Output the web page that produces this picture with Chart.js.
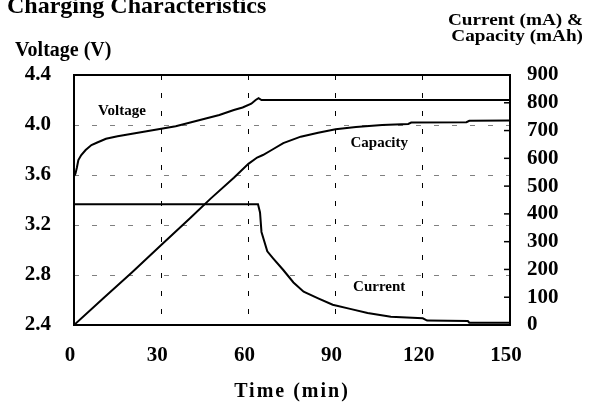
<!DOCTYPE html>
<html>
<head>
<meta charset="utf-8">
<script src="https://cdn.jsdelivr.net/npm/chart.js@4.4.1/dist/chart.umd.min.js"></script>
<style>
  html, body { margin: 0; padding: 0; background: #fff; }
  #wrap { width: 599px; height: 403px; }
</style>
</head>
<body>
<div id="wrap"><canvas id="c" width="599" height="403"></canvas></div>
<script>
// ---- data ----
const xTicks = [0, 30, 60, 90, 120, 150];
const voltageTicks = [2.4, 2.8, 3.2, 3.6, 4.0, 4.4];
const rightTicks = [0, 100, 200, 300, 400, 500, 600, 700, 800, 900];

const voltageTime = [0, 0.5, 1, 1.5, 2.5, 4, 6, 8, 11, 15, 20, 25, 30, 35, 40, 45, 50, 55, 58, 61, 62.5, 63.5, 64.5, 150];
const voltageValues = [3.59, 3.61, 3.66, 3.72, 3.76, 3.80, 3.84, 3.86, 3.89, 3.91, 3.93, 3.95, 3.97, 3.99, 4.02, 4.05, 4.08, 4.12, 4.14, 4.17, 4.20, 4.215, 4.20, 4.20];

const capacityTime = [0, 10, 20, 30, 40, 47, 55, 60, 63, 65, 68, 72, 78, 84, 90, 97, 106, 115, 116, 135, 136, 150];
const capacityValues = [0, 95, 190, 288, 385, 455, 530, 580, 603, 612, 630, 655, 678, 692, 705, 713, 720, 724, 729, 730, 735, 736];

const currentTime = [0, 63.3, 64, 64.5, 66.5, 68.5, 72, 75.5, 79, 84, 89, 95, 101, 109, 120, 121.5, 135.5, 136, 150];
const currentValues = [435, 435, 405, 335, 265, 240, 198, 153, 120, 96, 73, 58, 43, 30, 24, 16, 14, 8, 8];

const seriesLabels = [
  { text: 'Voltage', x: 16.5, y: 4.11, axis: 'y' },
  { text: 'Capacity', x: 105, y: 655, axis: 'y2' },
  { text: 'Current', x: 105, y: 137, axis: 'y2' }
];

function pts(xs, ys) { return xs.map((x, i) => ({ x: x, y: ys[i] })); }

const FONT = '"Liberation Serif", "Times New Roman", serif';

function stretchedText(ctx, text, x, y, sx, align) {
  ctx.save();
  ctx.translate(x, y);
  ctx.scale(sx, 1);
  ctx.textAlign = align;
  ctx.fillText(text, 0, 0);
  ctx.restore();
}

const overlay = {
  id: 'overlay',
  beforeDatasetsDraw(chart) {
    const { ctx, chartArea: a } = chart;
    ctx.save();
    ctx.strokeStyle = '#000';
    ctx.lineWidth = 2;
    ctx.strokeRect(a.left, a.top, a.right - a.left, a.bottom - a.top);
    // inward tick marks on the right axis
    const s = chart.scales.y2;
    ctx.lineWidth = 1.5;
    rightTicks.forEach(v => {
      const py = s.getPixelForValue(v);
      ctx.beginPath();
      ctx.moveTo(a.right - 6, py);
      ctx.lineTo(a.right, py);
      ctx.stroke();
    });
    ctx.restore();
  },
  afterDraw(chart) {
    const { ctx } = chart;
    ctx.save();
    ctx.fillStyle = '#000';
    ctx.textBaseline = 'alphabetic';
    ctx.textAlign = 'left';
    ctx.font = 'bold 24px ' + FONT;
    ctx.fillText('Charging Characteristics', 7, 13);
    ctx.font = 'bold 20px ' + FONT;
    ctx.fillText('Voltage (V)', 15, 56);
    ctx.font = 'bold 16px ' + FONT;
    stretchedText(ctx, 'Current (mA) &', 583, 25, 1.2, 'right');
    stretchedText(ctx, 'Capacity (mAh)', 583, 41, 1.2, 'right');
    ctx.textAlign = 'center';
    ctx.font = 'bold 20px ' + FONT;
    ctx.letterSpacing = '2px';
    ctx.fillText('Time (min)', 292, 397);
    ctx.letterSpacing = '0px';
    ctx.font = 'bold 15px ' + FONT;
    ctx.textBaseline = 'middle';
    seriesLabels.forEach(l => {
      const px = chart.scales.x.getPixelForValue(l.x);
      const py = chart.scales[l.axis].getPixelForValue(l.y);
      ctx.fillText(l.text, px, py);
    });
    ctx.restore();
  }
};

const lineStyle = { borderColor: '#000', borderWidth: 2, pointRadius: 0, tension: 0, fill: false };

new Chart(document.getElementById('c'), {
  type: 'line',
  data: {
    datasets: [
      Object.assign({ label: 'Voltage', data: pts(voltageTime, voltageValues), yAxisID: 'y' }, lineStyle),
      Object.assign({ label: 'Capacity', data: pts(capacityTime, capacityValues), yAxisID: 'y2' }, lineStyle),
      Object.assign({ label: 'Current', data: pts(currentTime, currentValues), yAxisID: 'y2' }, lineStyle)
    ]
  },
  options: {
    responsive: false,
    animation: false,
    layout: { padding: { top: 75, left: 0, right: 0, bottom: 0 } },
    plugins: { legend: { display: false }, tooltip: { enabled: false }, title: { display: false } },
    scales: {
      x: {
        type: 'linear', min: 0, max: 150,
        afterBuildTicks(s) { s.ticks = xTicks.map(v => ({ value: v })); },
        afterFit(s) { s.height = 78; },
        border: { display: false, dash: [5, 13] },
        grid: {
          drawTicks: false,
          color: c => (c.tick && (c.tick.value === 0 || c.tick.value === 150)) ? 'rgba(0,0,0,0)' : '#000',
          lineWidth: 1
        },
        ticks: { color: '#000', font: { family: FONT, size: 21, weight: 'bold' }, padding: 18, labelOffset: -4, maxRotation: 0, autoSkip: false }
      },
      y: {
        type: 'linear', position: 'left', min: 2.4, max: 4.4,
        afterBuildTicks(s) { s.ticks = voltageTicks.map(v => ({ value: v })); },
        afterFit(s) { s.width = 74; },
        border: { display: false, dash: [5, 13] },
        grid: {
          drawTicks: false,
          color: c => (c.tick && (c.tick.value === 2.4 || c.tick.value === 4.4)) ? 'rgba(0,0,0,0)' : '#808080',
          lineWidth: 1
        },
        ticks: { color: '#000', font: { family: FONT, size: 21, weight: 'bold' }, padding: 23, autoSkip: false, callback: v => v.toFixed(1) }
      },
      y2: {
        type: 'linear', position: 'right', min: 0, max: 900,
        afterBuildTicks(s) { s.ticks = rightTicks.map(v => ({ value: v })); },
        afterFit(s) { s.width = 89; },
        border: { display: false },
        grid: { drawOnChartArea: false, drawTicks: false },
        ticks: { color: '#000', font: { family: FONT, size: 21, weight: 'bold' }, padding: 17, autoSkip: false }
      }
    }
  },
  plugins: [overlay]
});
</script>
</body>
</html>
